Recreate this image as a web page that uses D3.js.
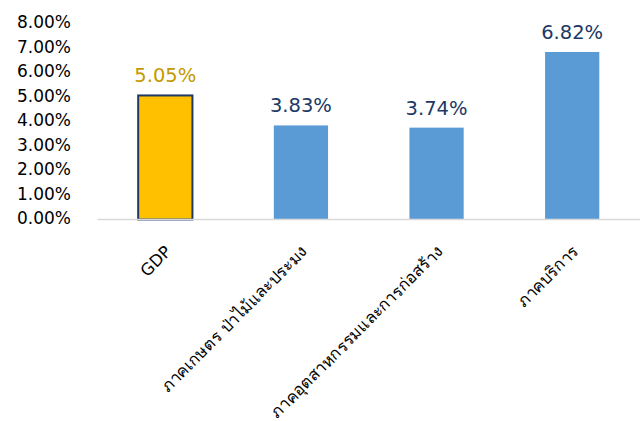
<!DOCTYPE html>
<html>
<head>
<meta charset="utf-8">
<script src="https://cdn.jsdelivr.net/npm/d3@7"></script>
<style>
  body { margin: 0; background: #fff; }
  svg { display: block; }
  text { font-family: Tahoma, 'DejaVu Sans', 'Noto Sans', sans-serif; }
</style>
</head>
<body>
<svg id="chart" width="642" height="421"></svg>
<script>
// data
const categories = ['GDP', 'ภาคเกษตร ป่าไม้และประมง', 'ภาคอุตสาหกรรมและการก่อสร้าง', 'ภาคบริการ']
const growth = [5.05, 3.83, 3.74, 6.82]
const yTicks = [0, 1, 2, 3, 4, 5, 6, 7, 8]

const width = 642, height = 421
const margin = {top: 23, right: 2, bottom: 201.5, left: 97.5}

const svg = d3.select('#chart')

const x = d3.scaleBand()
  .domain(categories)
  .range([margin.left, width - margin.right])
  .paddingInner(0.6)
  .paddingOuter(0.3)

const y = d3.scaleLinear()
  .domain([0, 8])
  .range([height - margin.bottom, margin.top])

const fmt = d => d.toFixed(2) + '%'

// y tick labels (no axis line)
svg.append('g')
  .selectAll('text')
  .data(yTicks).enter()
  .append('text')
    .attr('x', 71)
    .attr('y', d => y(d) - 1)
    .attr('dy', '0.35em')
    .attr('text-anchor', 'end')
    .attr('font-size', 17)
    .attr('fill', '#000')
    .text(d => fmt(d))

// bars
svg.append('g')
  .selectAll('rect')
  .data(growth).enter()
  .append('rect')
    .attr('x', (d, i) => x(categories[i]))
    .attr('y', d => y(d))
    .attr('width', x.bandwidth())
    .attr('height', d => y(0) - y(d))
    .attr('fill', (d, i) => i === 0 ? '#FFC000' : '#5B9BD5')
    .attr('stroke', (d, i) => i === 0 ? '#1F3864' : 'none')
    .attr('stroke-width', 2)

// baseline
svg.append('line')
  .attr('x1', margin.left).attr('x2', width - margin.right)
  .attr('y1', y(0)).attr('y2', y(0))
  .attr('stroke', '#D9D9D9')
  .attr('stroke-width', 1.5)

// value labels
svg.append('g')
  .selectAll('text')
  .data(growth).enter()
  .append('text')
    .attr('x', (d, i) => x(categories[i]) + x.bandwidth() / 2)
    .attr('y', d => y(d) - 13)
    .attr('text-anchor', 'middle')
    .attr('font-size', 19.5)
    .attr('fill', (d, i) => i === 0 ? '#C49A00' : '#203864')
    .text(d => fmt(d))

// category labels, rotated
svg.append('g')
  .selectAll('text')
  .data(categories).enter()
  .append('text')
    .attr('transform', d => `translate(${x(d) + x.bandwidth() / 2 + 3},${y(0) + 29}) rotate(-45)`)
    .attr('text-anchor', 'end')
    .attr('dy', '0.35em')
    .attr('font-size', 16.5)
    .attr('fill', '#000')
    .text(d => d)
</script>
</body>
</html>
